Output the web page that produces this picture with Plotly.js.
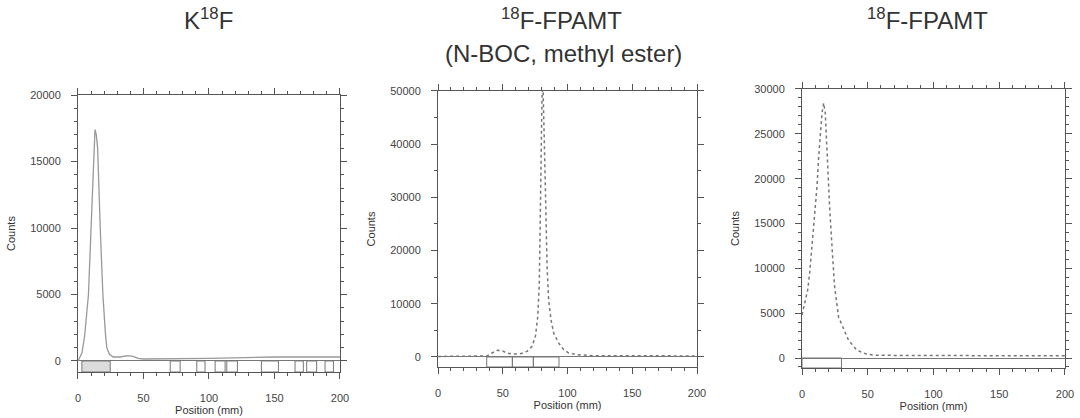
<!DOCTYPE html>
<html>
<head>
<meta charset="utf-8">
<script src="https://cdn.plot.ly/plotly-3.0.1.min.js"></script>
<style>html,body{margin:0;padding:0;background:#fff}#chart{width:1080px;height:418px}</style>
</head>
<body>
<div id="chart"></div>
<script>
// ---- Panel titles ----
const panelTitles = ["K<sup>18</sup>F", "<sup>18</sup>F-FPAMT", "<sup>18</sup>F-FPAMT"];
const panelSubtitle = "(N-BOC, methyl ester)";
const xTickVals = [0, 50, 100, 150, 200];

// ---- Panel 1: K18F ----
const k18fPos    = [0, 3, 5, 7, 8, 10, 12, 13, 14, 15, 17, 19, 21, 22, 24, 27, 32, 38, 42, 46, 50, 60, 70, 80, 90, 100, 110, 120, 130, 140, 150, 160, 170, 180, 190, 200];
const k18fCounts = [0, 600, 1800, 3800, 5000, 10000, 15000, 17400, 17000, 16000, 10000, 5000, 2000, 1000, 500, 300, 300, 400, 350, 200, 150, 150, 150, 180, 200, 200, 220, 250, 250, 280, 300, 300, 300, 300, 300, 300];
const k18fRoiStart = [3, 70.4, 90.7, 104.7, 113.6, 140, 165.7, 174.6, 188.6];
const k18fRoiEnd   = [24.6, 78, 97, 112.3, 121.7, 153, 172, 182.2, 195];

// ---- Panel 2: 18F-FPAMT (N-BOC, methyl ester) ----
const bocPos    = [0, 10, 20, 30, 38, 41.7, 45.6, 49.4, 53, 57, 63.6, 68.7, 72.6, 75.2, 77, 78.2, 79, 79.8, 80.3, 81, 82.1, 83.1, 84.2, 85.4, 87.2, 89.3, 93.2, 97, 100.9, 107.3, 120, 146, 160, 175, 190, 200];
const bocCounts = [100, 150, 150, 150, 200, 750, 1250, 1200, 750, 560, 600, 1060, 2000, 3900, 7600, 13900, 29500, 42000, 49000, 51500, 42000, 29500, 17000, 10750, 7000, 4500, 2600, 1400, 750, 440, 250, 200, 200, 180, 200, 200];
const bocRoiStart = [37.6, 57.4, 73.6];
const bocRoiEnd   = [57.4, 73.6, 93.4];

// ---- Panel 3: 18F-FPAMT ----
const fpamtPos    = [0, 2.5, 4.3, 5.8, 7.6, 9.6, 11.4, 12.7, 13.9, 15.2, 16.5, 17.7, 18.5, 19.5, 21, 22.8, 24.8, 27.8, 32.2, 35.4, 41.8, 49.4, 57, 80, 100, 130, 160, 200];
const fpamtCounts = [4800, 6450, 7570, 9430, 12400, 16140, 19120, 22470, 25460, 27320, 28440, 27320, 24710, 20980, 16880, 12410, 7940, 4580, 3090, 1975, 860, 410, 300, 280, 250, 250, 250, 250];
const fpamtRoiStart = [0];
const fpamtRoiEnd   = [30];

const axisColor = '#555';
const tickFont = {family: 'Liberation Sans, Arial, sans-serif', size: 11, color: '#444'};
const titleFont = {family: 'Liberation Sans, Arial, sans-serif', size: 11, color: '#333'};

function xAxis(domain, anchor) {
  return {
    domain: domain, anchor: anchor, range: [0, 200],
    tickvals: xTickVals, ticks: 'outside', ticklen: 6, tickcolor: axisColor,
    minor: {dtick: 10, ticks: 'outside', ticklen: 3, tickcolor: axisColor},
    showline: true, linecolor: axisColor, linewidth: 1, mirror: 'allticks',
    showgrid: false, zeroline: false, tickfont: tickFont, ticklabelstandoff: 10,
    title: {text: 'Position (mm)', font: titleFont, standoff: 3}
  };
}
function yAxis(domain, anchor, range, dtick, minorDtick) {
  return {
    domain: domain, anchor: anchor, range: range,
    tick0: 0, dtick: dtick, ticks: 'outside', ticklen: 6, tickcolor: axisColor,
    minor: {dtick: minorDtick, tick0: 0, ticks: 'outside', ticklen: 3, tickcolor: axisColor},
    showline: true, linecolor: axisColor, linewidth: 1, mirror: 'allticks',
    showgrid: false, zeroline: true, zerolinecolor: '#777', zerolinewidth: 1,
    tickformat: 'd',
    tickfont: tickFont, ticklabelstandoff: 8,
    title: {text: 'Counts', font: titleFont, standoff: 12}
  };
}

const traces = [
  {x: k18fPos, y: k18fCounts, xaxis: 'x', yaxis: 'y', type: 'scatter', mode: 'lines',
   line: {color: '#999', width: 1.3}, hoverinfo: 'x+y'},
  {x: bocPos, y: bocCounts, xaxis: 'x2', yaxis: 'y2', type: 'scatter', mode: 'lines',
   line: {color: '#777', width: 1.5, dash: 'dot'}, hoverinfo: 'x+y'},
  {x: fpamtPos, y: fpamtCounts, xaxis: 'x3', yaxis: 'y3', type: 'scatter', mode: 'lines',
   line: {color: '#777', width: 1.5, dash: 'dot'}, hoverinfo: 'x+y'}
];

const y1Range = [-830, 20000];
const y2Range = [-1880, 50000];
const y3Range = [-1115, 30000];

const shapes = [];
function addRois(starts, ends, xref, yref, yMin, firstFill) {
  starts.forEach((s, i) => {
    shapes.push({type: 'rect', xref: xref, yref: yref, x0: s, x1: ends[i], y0: 0, y1: yMin,
      line: {color: '#777', width: 1}, fillcolor: (i === 0 && firstFill) ? firstFill : 'rgba(0,0,0,0)'});
  });
}
addRois(k18fRoiStart, k18fRoiEnd, 'x', 'y', y1Range[0], '#dcdcdc');
addRois(bocRoiStart, bocRoiEnd, 'x2', 'y2', y2Range[0], null);
addRois(fpamtRoiStart, fpamtRoiEnd, 'x3', 'y3', y3Range[0], null);

const bigFont = {family: 'Liberation Sans, Arial, sans-serif', size: 24, color: '#333'};
const annotations = [
  {text: panelTitles[0], xref: 'paper', yref: 'paper', x: 0.1926, y: 0.9557, xanchor: 'center', yanchor: 'middle', showarrow: false, font: bigFont},
  {text: panelTitles[1], xref: 'paper', yref: 'paper', x: 0.5200, y: 0.9557, xanchor: 'center', yanchor: 'middle', showarrow: false, font: bigFont},
  {text: panelSubtitle,  xref: 'paper', yref: 'paper', x: 0.5222, y: 0.8732, xanchor: 'center', yanchor: 'middle', showarrow: false, font: bigFont},
  {text: panelTitles[2], xref: 'paper', yref: 'paper', x: 0.8590, y: 0.9557, xanchor: 'center', yanchor: 'middle', showarrow: false, font: bigFont}
];

const layout = {
  width: 1080, height: 418,
  margin: {l: 0, r: 0, t: 0, b: 0},
  paper_bgcolor: '#fff', plot_bgcolor: '#fff',
  showlegend: false,
  xaxis:  xAxis([0.0722, 0.3148], 'y'),
  yaxis:  yAxis([0.1100, 0.7727], 'x', y1Range, 5000, 1000),
  xaxis2: xAxis([0.4056, 0.6454], 'y2'),
  yaxis2: yAxis([0.1220, 0.7823], 'x2', y2Range, 10000, 5000),
  xaxis3: xAxis([0.7426, 0.9861], 'y3'),
  yaxis3: yAxis([0.1196, 0.7871], 'x3', y3Range, 5000, 1000),
  shapes: shapes,
  annotations: annotations
};

Plotly.newPlot('chart', traces, layout, {displayModeBar: false, responsive: false});
</script>
</body>
</html>
